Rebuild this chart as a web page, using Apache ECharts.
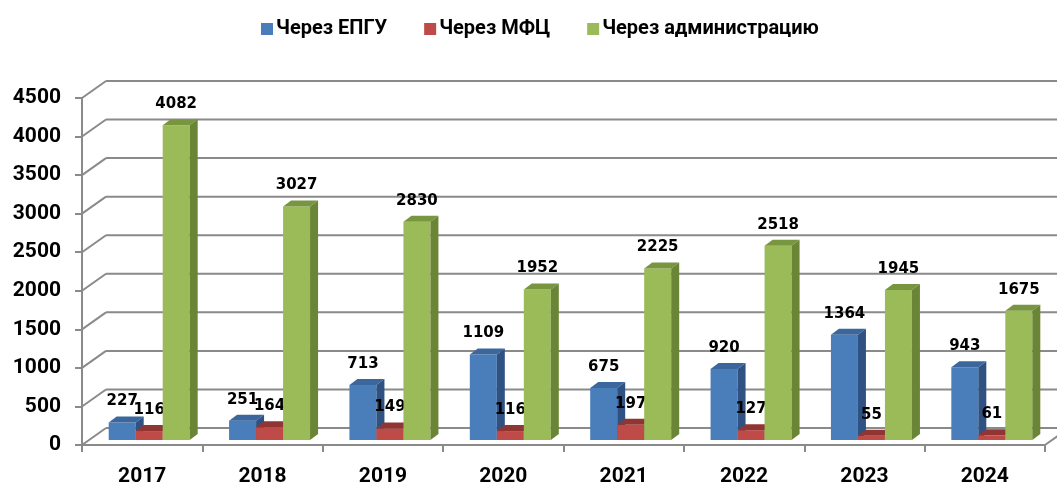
<!DOCTYPE html>
<html>
<head>
<meta charset="utf-8">
<script src="https://cdn.jsdelivr.net/npm/echarts@6/dist/echarts.min.js"></script>
<style>
  html, body { margin: 0; padding: 0; background: #ffffff; }
  #chart { width: 1057px; height: 487px; }
</style>
</head>
<body>
<div id="chart"></div>
<script>
// Количество заявлений по способам подачи, 2017–2024
const categories = ['2017', '2018', '2019', '2020', '2021', '2022', '2023', '2024'];
const seriesNames = ['Через ЕПГУ', 'Через МФЦ', 'Через администрацию'];
const epgu  = [227, 251, 713, 1109, 675, 920, 1364, 943];
const mfc   = [116, 164, 149, 116, 197, 127, 55, 61];
const admin = [4082, 3027, 2830, 1952, 2225, 2518, 1945, 1675];
const yTicks = [0, 500, 1000, 1500, 2000, 2500, 3000, 3500, 4000, 4500];

// pseudo-3D geometry (pixels)
const WALL_DX = 24, WALL_DY = -17;   // depth of the back wall
const SHIFT_X = 7, SHIFT_Y = -5;     // bars stand slightly inside the floor
const DEPTH_X = 8, DEPTH_Y = -6;     // depth of each column
const BAR_W = 27;
const GRID_COLOR = '#8a8a8a';

const faces = [
  { front: '#4a7ebb', top: '#3c679d', side: '#2f5283' },
  { front: '#be4b48', top: '#913533', side: '#8a3331' },
  { front: '#9bbb59', top: '#789540', side: '#6a8536' }
];

function barRenderer(slot) {
  const f = faces[slot];
  return function (params, api) {
    const cat = api.value(0);
    const val = api.value(1);
    const top = api.coord([cat, val]);
    const base = api.coord([cat, 0]);
    const x0 = top[0] - 1.5 * BAR_W + slot * BAR_W + SHIFT_X;
    const x1 = x0 + BAR_W;
    const yT = top[1] + SHIFT_Y;
    const yB = base[1] + SHIFT_Y;
    return {
      type: 'group',
      children: [
        { type: 'rect', shape: { x: x0, y: yT, width: BAR_W, height: yB - yT },
          style: { fill: f.front } },
        { type: 'polygon',
          shape: { points: [[x0, yT], [x1, yT], [x1 + DEPTH_X, yT + DEPTH_Y], [x0 + DEPTH_X, yT + DEPTH_Y]] },
          style: { fill: f.top } },
        { type: 'polygon',
          shape: { points: [[x1, yT], [x1 + DEPTH_X, yT + DEPTH_Y], [x1 + DEPTH_X, yB + DEPTH_Y], [x1, yB]] },
          style: { fill: f.side } },
        { type: 'text',
          style: { text: String(val), x: (x0 + x1) / 2, y: yT - 21,
                   align: 'center', verticalAlign: 'middle',
                   fill: '#000000', font: 'bold 15px "DejaVu Sans"' } }
      ]
    };
  };
}

// back wall gridlines with the left-wall diagonals
function wallRenderer(params, api) {
  const cs = params.coordSys;
  const v = api.value(1);
  const y = api.coord([0, v])[1];
  const left = cs.x, right = cs.x + cs.width;
  const children = [
    { type: 'line', shape: { x1: left, y1: y, x2: left + WALL_DX, y2: y + WALL_DY },
      style: { stroke: GRID_COLOR, lineWidth: 2 } },
    { type: 'line', shape: { x1: left + WALL_DX, y1: y + WALL_DY, x2: right + WALL_DX, y2: y + WALL_DY },
      style: { stroke: GRID_COLOR, lineWidth: 2 } }
  ];
  if (v === 0) {
    children.push({ type: 'line', shape: { x1: right, y1: y, x2: right + WALL_DX, y2: y + WALL_DY },
      style: { stroke: GRID_COLOR, lineWidth: 2 } });
  }
  return { type: 'group', children: children };
}

function toPairs(arr) { return arr.map((v, i) => [i, v]); }

const chart = echarts.init(document.getElementById('chart'), null, { renderer: 'canvas' });

chart.setOption({
  animation: false,
  backgroundColor: '#ffffff',
  legend: {
    data: seriesNames,
    left: 256,
    top: 14,
    icon: 'rect',
    itemWidth: 12,
    itemHeight: 12,
    itemGap: 37,
    textStyle: { fontFamily: 'Roboto', fontWeight: 'bold', fontSize: 20, color: '#000000', padding: [0, 0, 0, -2] }
  },
  grid: { left: 82, right: 12, top: 98, bottom: 42, containLabel: false },
  xAxis: {
    type: 'category',
    data: categories,
    boundaryGap: true,
    axisLine: { show: true, lineStyle: { color: GRID_COLOR, width: 2 } },
    axisTick: { show: true, length: 7, lineStyle: { color: GRID_COLOR, width: 2 } },
    axisLabel: { margin: 21, fontFamily: 'Roboto', fontWeight: 'bold', fontSize: 21, color: '#000000' },
    splitLine: { show: false }
  },
  yAxis: {
    type: 'value',
    min: 0,
    max: 4500,
    interval: 500,
    axisLine: { show: true, lineStyle: { color: GRID_COLOR, width: 2 } },
    axisTick: { show: true, length: 7, lineStyle: { color: GRID_COLOR, width: 2 } },
    axisLabel: { margin: 21, fontFamily: 'Roboto', fontWeight: 'bold', fontSize: 21, color: '#000000',
                 formatter: v => String(v) },
    splitLine: { show: false }
  },
  series: [
    {
      type: 'custom', name: 'walls', z: 1, clip: false, silent: true,
      renderItem: wallRenderer,
      data: yTicks.map(v => [0, v]),
      encode: { x: 0, y: 1 }
    },
    {
      type: 'custom', name: seriesNames[0], z: 2, clip: false,
      itemStyle: { color: faces[0].front },
      renderItem: barRenderer(0), data: toPairs(epgu), encode: { x: 0, y: 1 }
    },
    {
      type: 'custom', name: seriesNames[1], z: 3, clip: false,
      itemStyle: { color: faces[1].front },
      renderItem: barRenderer(1), data: toPairs(mfc), encode: { x: 0, y: 1 }
    },
    {
      type: 'custom', name: seriesNames[2], z: 4, clip: false,
      itemStyle: { color: faces[2].front },
      renderItem: barRenderer(2), data: toPairs(admin), encode: { x: 0, y: 1 }
    }
  ]
});
</script>
</body>
</html>
